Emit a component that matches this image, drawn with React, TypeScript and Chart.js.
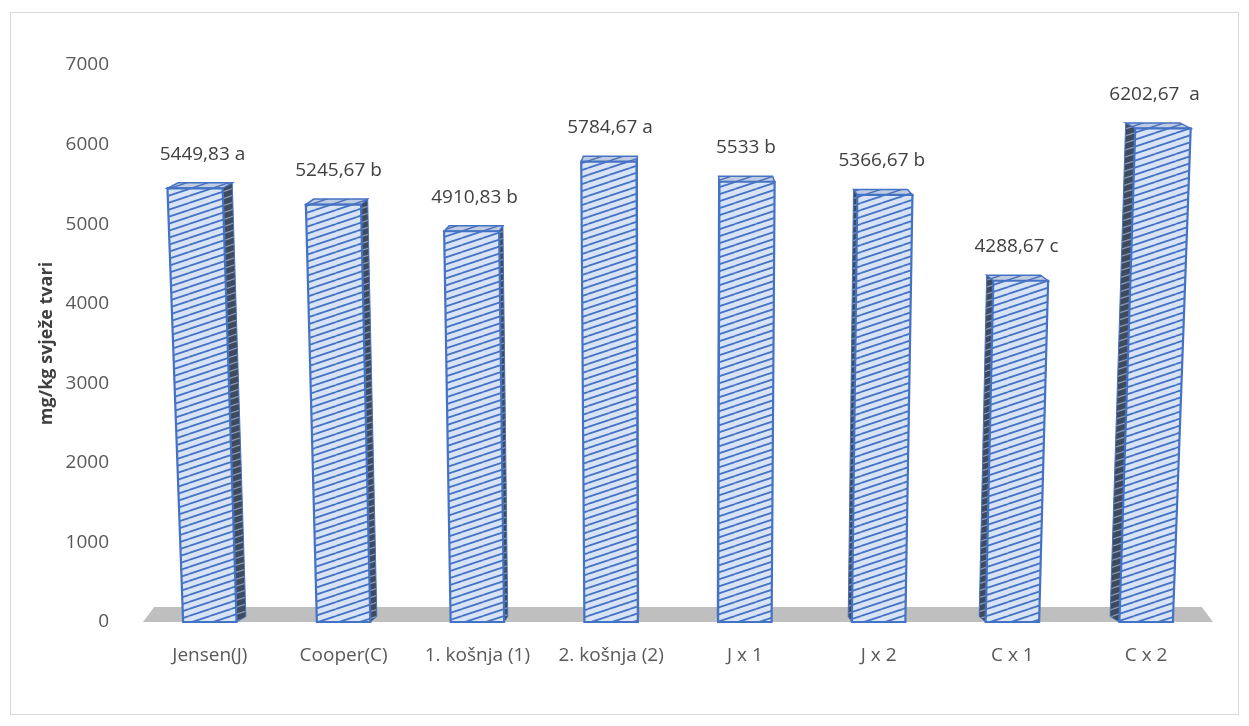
import React, { useEffect, useRef } from 'react';
import { Chart, registerables } from 'chart.js';

Chart.register(...registerables);

const categories = ['Jensen(J)', 'Cooper(C)', '1. košnja (1)', '2. košnja (2)', 'J x 1', 'J x 2', 'C x 1', 'C x 2'];
const values = [5449.83, 5245.67, 4910.83, 5784.67, 5533, 5366.67, 4288.67, 6202.67];
const letters = ['a', 'b', 'b', 'a', 'b', 'b', 'c', ' a'];
const yMin = 0;
const yMax = 7000;
const yStep = 1000;
const yTitle = 'mg/kg svježe tvari';

const FONT = "'Open Sans', 'DejaVu Sans', sans-serif";

function makeHatch(ctx: CanvasRenderingContext2D, bg: string, fg: string, lw: number) {
  const w = 21;
  const h = 7;
  const c = document.createElement('canvas');
  c.width = w;
  c.height = h;
  const g = c.getContext('2d')!;
  g.fillStyle = bg;
  g.fillRect(0, 0, w, h);
  g.strokeStyle = fg;
  g.lineWidth = lw;
  for (const off of [-h, 0, h]) {
    g.beginPath();
    g.moveTo(0, h + off);
    g.lineTo(w, off);
    g.stroke();
  }
  return ctx.createPattern(c, 'repeat')!;
}

const K = 1 / 13700; // perspective lean
const D = 0.979; // depth scale towards centre
const DZ = 5.5; // bar depth (vertical)
const FLOOR = 15; // floor depth

function poly(ctx: CanvasRenderingContext2D, pts: number[][]) {
  ctx.beginPath();
  ctx.moveTo(pts[0][0], pts[0][1]);
  for (let i = 1; i < pts.length; i++) ctx.lineTo(pts[i][0], pts[i][1]);
  ctx.closePath();
}

function makePlugin(pats: { side: CanvasPattern; top: CanvasPattern }) {
  return {
    id: 'frameAndFloor',
    beforeDraw(chart: any) {
      const { ctx } = chart;
      ctx.save();
      ctx.fillStyle = '#ffffff';
      ctx.fillRect(0, 0, chart.width, chart.height);
      ctx.strokeStyle = '#d9d9d9';
      ctx.lineWidth = 1;
      ctx.strokeRect(10.5, 12.5, 1228, 702);
      ctx.restore();
    },
    beforeDatasetsDraw(chart: any) {
      const { ctx, chartArea: ca } = chart;
      const yScale = chart.scales.y;
      const b0 = yScale.getPixelForValue(0);
      const cx = (ca.left + ca.right) / 2;
      ctx.save();
      ctx.fillStyle = '#bfbfbf';
      poly(ctx, [
        [ca.left, b0],
        [ca.right, b0],
        [cx + (ca.right - cx) * D, b0 - FLOOR],
        [cx + (ca.left - cx) * D, b0 - FLOOR],
      ]);
      ctx.fill();

      const meta = chart.getDatasetMeta(0);
      meta.data.forEach((el: any) => {
        const p = el.getProps(['x', 'y', 'base', 'width'], true);
        const x0 = p.x - p.width / 2;
        const x1 = p.x + p.width / 2;
        const b = p.base;
        const top = p.y;
        const P = (x: number, y: number) => [cx + (x - cx) * (1 + (b - y) * K), y];
        const B = (q: number[]) => [cx + (q[0] - cx) * D, q[1] - DZ];
        const fl = P(x0, b), fr = P(x1, b), tl = P(x0, top), tr = P(x1, top);
        const leftSide = p.x < cx;
        const side = leftSide ? [fr, tr, B(tr), B(fr)] : [fl, tl, B(tl), B(fl)];
        ctx.fillStyle = pats.side;
        poly(ctx, side);
        ctx.fill();
        ctx.strokeStyle = '#4472c4';
        ctx.lineWidth = 1;
        ctx.stroke();
        ctx.fillStyle = pats.top;
        poly(ctx, [tl, tr, B(tr), B(tl)]);
        ctx.fill();
        ctx.lineWidth = 1.5;
        ctx.stroke();
        ctx.fillStyle = el.options.backgroundColor;
        poly(ctx, [fl, fr, tr, tl]);
        ctx.fill();
        ctx.strokeStyle = el.options.borderColor;
        ctx.lineWidth = 2.2;
        ctx.stroke();
      });
      ctx.restore();
      return false;
    },
    afterDraw(chart: any) {
      const { ctx, chartArea: ca } = chart;
      const cx = (ca.left + ca.right) / 2;
      const meta = chart.getDatasetMeta(0);
      ctx.save();
      ctx.font = `19px ${FONT}`;
      ctx.fillStyle = '#404040';
      ctx.textAlign = 'center';
      ctx.textBaseline = 'middle';
      meta.data.forEach((el: any, i: number) => {
        const p = el.getProps(['x', 'y', 'base'], true);
        const lean = (p.x - cx) * (p.base - p.y) * K;
        const txt = String(values[i]).replace('.', ',') + ' ' + letters[i];
        ctx.fillText(txt, p.x + lean / 2, p.y - 34);
      });
      ctx.restore();
    },
  };
}

export default function App() {
  const ref = useRef<HTMLCanvasElement | null>(null);
  useEffect(() => {
    const canvas = ref.current!;
    const ctx = canvas.getContext('2d')!;
    const front = makeHatch(ctx, '#d8e3f5', '#4472c4', 1.8);
    const pats = {
      side: makeHatch(ctx, '#3e4b5e', '#8a99b0', 1.2),
      top: makeHatch(ctx, '#bfcbe0', '#4a6fb5', 1.4),
    };
    const chart: any = new Chart(canvas, {
      type: 'bar',
      data: {
        labels: categories,
        datasets: [
          {
            data: values,
            backgroundColor: front,
            borderColor: '#4472c4',
            borderWidth: 2,
            barPercentage: 0.4,
            categoryPercentage: 1,
          },
        ],
      },
      options: {
        animation: false,
        responsive: false,
        devicePixelRatio: 1,
        layout: { padding: { top: 65, right: 36, left: 0, bottom: 0 } },
        plugins: { legend: { display: false }, tooltip: { enabled: false } },
        scales: {
          x: {
            grid: { display: false, drawTicks: false },
            border: { display: false },
            ticks: { color: '#595959', font: { family: FONT, size: 19 }, padding: 22, maxRotation: 0, autoSkip: false },
            afterFit: (s: any) => {
              s.height = 104;
            },
          },
          y: {
            min: yMin,
            max: yMax,
            grid: { display: false, drawTicks: false },
            border: { display: false },
            ticks: {
              stepSize: yStep,
              color: '#595959',
              font: { family: FONT, size: 19 },
              padding: 34,
              callback: (v: any) => String(v),
            },
            title: {
              display: true,
              text: yTitle,
              color: '#404040',
              font: { family: FONT, size: 18, weight: 'bold' },
              padding: { top: 36, bottom: 0 },
            },
            afterFit: (s: any) => {
              s.width = 143;
            },
          },
        },
      },
      plugins: [makePlugin(pats)],
    });
    return () => chart.destroy();
  }, []);
  return (
    <div style={{ position: 'fixed', left: 0, top: 0, width: 1249, height: 726, background: '#fff' }}>
      <canvas ref={ref} width={1249} height={726} style={{ display: 'block', width: 1249, height: 726 }} />
    </div>
  );
}
